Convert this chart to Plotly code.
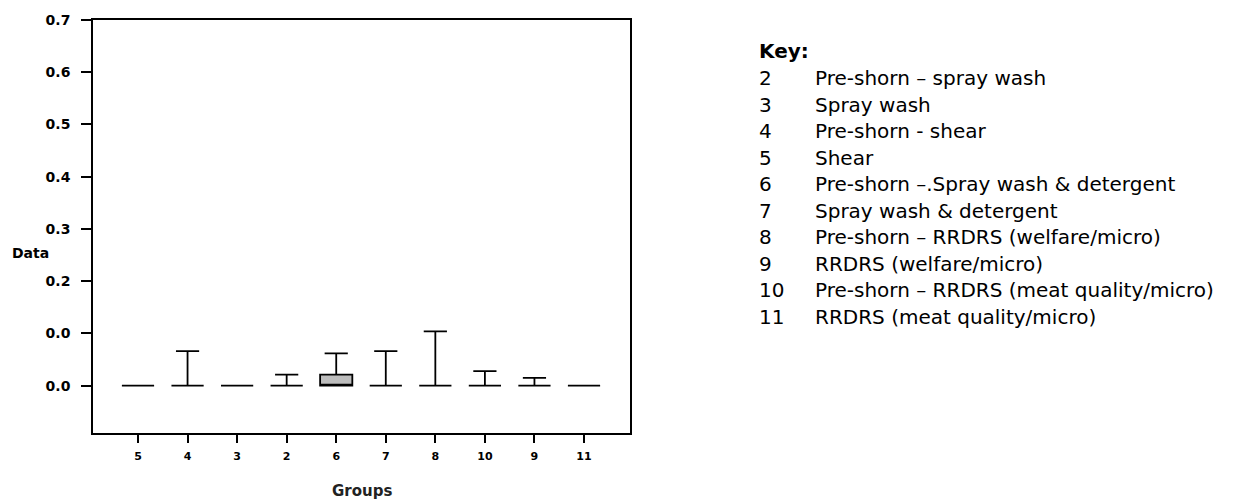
import plotly.graph_objects as go

# ---- data ----
groups = ["5", "4", "3", "2", "6", "7", "8", "10", "9", "11"]
q1_vals = [0.0, 0.0, 0.0, 0.0, 0.0, 0.0, 0.0, 0.0, 0.0, 0.0]
median_vals = [0.0, 0.0, 0.0, 0.0, 0.0, 0.0, 0.0, 0.0, 0.0, 0.0]
q3_vals = [0.0, 0.0, 0.0, 0.0, 0.021, 0.0, 0.0, 0.0, 0.0, 0.0]
lower_vals = [0.0, 0.0, 0.0, 0.0, 0.0, 0.0, 0.0, 0.0, 0.0, 0.0]
upper_vals = [0.0, 0.066, 0.0, 0.021, 0.062, 0.066, 0.104, 0.028, 0.015, 0.0]

ytick_vals = [0.0, 0.1, 0.2, 0.3, 0.4, 0.5, 0.6, 0.7]
ytick_text = ["0.0", "0.0", "0.2", "0.3", "0.4", "0.5", "0.6", "0.7"]

key_numbers = ["2", "3", "4", "5", "6", "7", "8", "9", "10", "11"]
key_labels = [
    "Pre-shorn \u2013 spray wash",
    "Spray wash",
    "Pre-shorn - shear",
    "Shear",
    "Pre-shorn \u2013.Spray wash & detergent",
    "Spray wash & detergent",
    "Pre-shorn \u2013 RRDRS (welfare/micro)",
    "RRDRS (welfare/micro)",
    "Pre-shorn \u2013 RRDRS (meat quality/micro)",
    "RRDRS (meat quality/micro)",
]

# ---- layout geometry (pixels) ----
W, H = 1252, 500
PL, PR, PT, PB = 93, 630, 14, 433
pw, ph = PR - PL, PB - PT


def px(x):
    return (x - PL) / pw


def py(y):
    return (PB - y) / ph


fig = go.Figure()
fig.add_trace(go.Box(
    x=groups,
    q1=q1_vals,
    median=median_vals,
    q3=q3_vals,
    lowerfence=lower_vals,
    upperfence=upper_vals,
    boxpoints=False,
    width=0.65,
    whiskerwidth=0.72,
    line=dict(color="black", width=1.8),
    fillcolor="#bdbdbd",
    showlegend=False,
    hoverinfo="skip",
))

axis_common = dict(showline=True, linecolor="black", linewidth=1.6, mirror=True,
                   showgrid=False, zeroline=False, ticks="outside",
                   tickcolor="black", tickwidth=1.5)

fig.update_xaxes(
    type="category", categoryorder="array", categoryarray=groups,
    range=[-0.908, 9.928], ticklen=8, ticklabelstandoff=4,
    tickfont=dict(family="DejaVu Sans", size=11, color="black", weight="bold"),
    **axis_common,
)
fig.update_yaxes(
    range=[-0.0906, 0.7], tickvals=ytick_vals, ticktext=ytick_text,
    ticklen=10, ticklabelstandoff=8,
    tickfont=dict(family="DejaVu Sans", size=14, color="black", weight="bold"),
    **axis_common,
)

annotations = [
    dict(text="Data", x=px(10), y=py(250), xanchor="left", yanchor="middle",
         font=dict(family="DejaVu Sans", size=14, color="black", weight="bold")),
    dict(text="Groups", x=px(362), y=py(492), xanchor="center", yanchor="middle",
         font=dict(family="DejaVu Sans", size=15, color="#222222", weight="bold")),
    dict(text="Key:", x=px(757), y=py(45), xanchor="left", yanchor="middle",
         font=dict(family="DejaVu Sans", size=20, color="black", weight="bold")),
]
for i, (n, lab) in enumerate(zip(key_numbers, key_labels)):
    yy = 73 + 26.9 * i
    annotations.append(dict(text=n, x=px(757), y=py(yy), xanchor="left", yanchor="middle",
                            font=dict(family="DejaVu Sans", size=20, color="black")))
    annotations.append(dict(text=lab, x=px(813), y=py(yy), xanchor="left", yanchor="middle",
                            font=dict(family="DejaVu Sans", size=20, color="black")))
for a in annotations:
    a.update(xref="paper", yref="paper", showarrow=False)

fig.update_layout(
    width=W, height=H,
    margin=dict(l=PL, r=W - PR, t=PT, b=H - PB, pad=0),
    plot_bgcolor="white", paper_bgcolor="white",
    annotations=annotations,
)

fig.write_html("out.html")
